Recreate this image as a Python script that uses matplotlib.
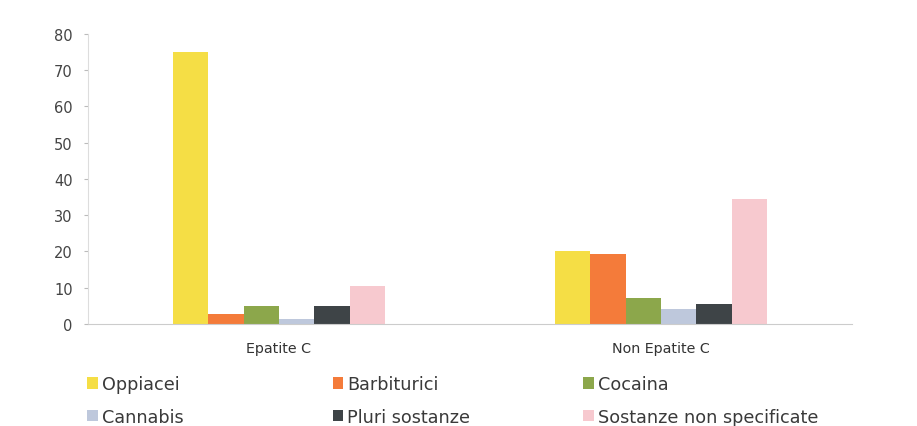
import matplotlib
matplotlib.use("Agg")
from matplotlib import pyplot as plt
import numpy as np

plt.rcParams['font.family'] = ['DejaVu Sans']

groups = ["Epatite C", "Non Epatite C"]
substances = ["Oppiacei", "Barbiturici", "Cocaina", "Cannabis", "Pluri sostanze", "Sostanze non specificate"]
values = {
    "Oppiacei": [75.0, 20.2],
    "Barbiturici": [2.8, 19.3],
    "Cocaina": [5.0, 7.2],
    "Cannabis": [1.5, 4.0],
    "Pluri sostanze": [5.0, 5.5],
    "Sostanze non specificate": [10.5, 34.5],
}
colors = ["#F5DE45", "#F47B3A", "#8CA74B", "#BEC8DC", "#3E4447", "#F7C9CF"]

fig = plt.figure(figsize=(9.17, 4.27), dpi=100)
ax = fig.add_axes((0.096, 0.239, 0.833, 0.679))

x = np.arange(len(groups))
w = 0.0925
handles = []
for i, (name, c) in enumerate(zip(substances, colors)):
    offs = (i - 2.5) * w
    b = ax.bar(x + offs, values[name], width=w, color=c, linewidth=0)
    handles.append(b)

ax.set_xlim(-0.5, 1.5)
ax.set_ylim(0, 80)
ax.set_yticks(range(0, 81, 10))
ax.set_xticks(x)
ax.set_xticklabels(groups)
ax.tick_params(axis="y", length=3, color="#bbbbbb", labelsize=10.5, labelcolor="#444444", pad=8)
ax.tick_params(axis="x", length=0, labelsize=10.3, labelcolor="#333333", pad=12)
for s in ["top", "right"]:
    ax.spines[s].set_visible(False)
ax.spines["left"].set_color("#dddddd")
ax.spines["bottom"].set_color("#cccccc")
ax.spines["left"].set_linewidth(0.8)
ax.spines["bottom"].set_linewidth(0.8)

# legend in three columns, placed one column at a time
col_x = [0.095, 0.363, 0.636]
for j in range(3):
    hs = [handles[j], handles[j + 3]]
    ls = [substances[j], substances[j + 3]]
    leg = fig.legend(hs, ls, loc="upper left", bbox_to_anchor=(col_x[j], 0.119),
                     frameon=False, handlelength=0.6, handleheight=0.6,
                     handletextpad=0.22, labelspacing=0.82, fontsize=12.7,
                     borderpad=0, borderaxespad=0)
    for t in leg.get_texts():
        t.set_color("#3a3a3a")

fig.savefig("out.png", dpi=100, facecolor="white")
